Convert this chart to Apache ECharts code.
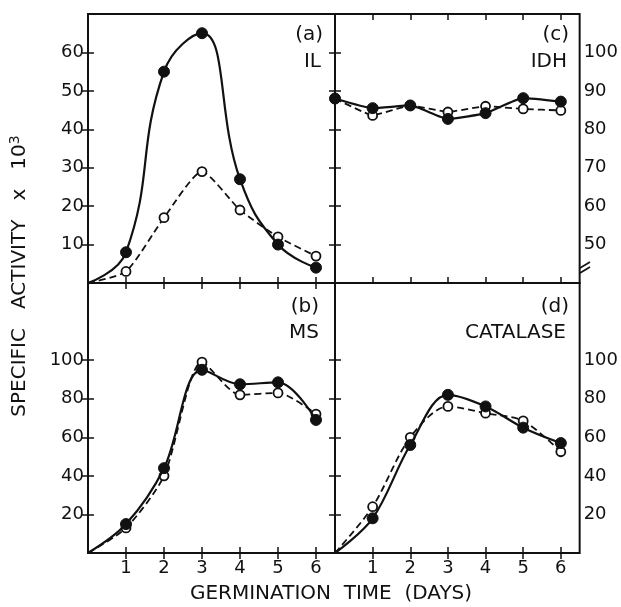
<!DOCTYPE html>
<html>
<head>
    <meta http-equiv="Content-Type" content="text/html; charset=utf-8"/>
    <title>Germination time</title>
    <style type="text/css">
        html, body { margin: 0; padding: 0; background: #fff; }
        #container { width: 621px; height: 607px; }
    </style>
</head>
<body>
<div id="container"></div>
<script type="text/javascript" src="https://cdn.jsdelivr.net/npm/echarts@6/dist/echarts.min.js"></script>
<script type="text/javascript">
    // days of germination
    var days = [0, 1, 2, 3, 4, 5, 6];
    var dayTicks = [1, 2, 3, 4, 5, 6];

    // (a) IL
    var ilFilled = [0, 8, 55, 65, 27, 10, 4];
    var ilOpen = [0, 3, 17, 29, 19, 12, 7];
    // (c) IDH
    var idhFilled = [88, 85.5, 86.2, 82.7, 84.2, 88.1, 87.2];
    var idhOpen = [88, 83.6, 86.2, 84.5, 86, 85.3, 84.9];
    // (b) MS
    var msFilled = [0, 15, 44, 95, 87.5, 88.5, 69];
    var msOpen = [0, 13, 40, 99, 82, 83, 72];
    // (d) CATALASE
    var catFilled = [0, 18, 56, 82, 76, 65, 57];
    var catOpen = [0, 24, 60, 76, 72.5, 68.5, 52.5];

    // y tick labels
    var ilTicks = [10, 20, 30, 40, 50, 60];
    var idhTicks = [50, 60, 70, 80, 90, 100];
    var msTicks = [20, 40, 60, 80, 100];
    var catTicks = [20, 40, 60, 80, 100];

    var FONT = 'DejaVu Sans';
    var INK = '#111';

    var chart = echarts.init(document.getElementById('container'));

    var grids = [
        {left: 88, top: 14, width: 247, height: 269},   // a
        {left: 335, top: 14, width: 250, height: 269},  // c
        {left: 88, top: 283, width: 247, height: 270},  // b
        {left: 335, top: 283, width: 250, height: 270}  // d
    ];
    grids.forEach(function (g) {
        g.show = true;
        g.borderColor = INK;
        g.borderWidth = 2;
        g.containLabel = false;
    });

    var xAxes = [];
    var yAxes = [];
    function addX(gi, pos, labels) {
        xAxes.push({
            type: 'value', gridIndex: gi, position: pos, min: 0, max: 6.5,
            axisLine: {show: false},
            splitLine: {show: false},
            axisTick: {inside: true, length: 6, customValues: dayTicks, lineStyle: {color: INK, width: 1.5}},
            axisLabel: {show: labels, customValues: dayTicks, margin: 6, color: INK, fontFamily: FONT, fontSize: 18}
        });
        return xAxes.length - 1;
    }
    function addY(gi, pos, min, max, ticks, labels) {
        yAxes.push({
            type: 'value', gridIndex: gi, position: pos, min: min, max: max,
            axisLine: {show: false},
            splitLine: {show: false},
            axisTick: {inside: true, length: 6, customValues: ticks, lineStyle: {color: INK, width: 1.5}},
            axisLabel: {show: labels, customValues: ticks, margin: 4, color: INK, fontFamily: FONT, fontSize: 18}
        });
        return yAxes.length - 1;
    }

    function pts(vals, hideFirst) {
        return days.map(function (d, i) {
            if (i === 0 && hideFirst) {
                return {value: [d, vals[i]], symbol: 'none'};
            }
            return [d, vals[i]];
        });
    }

    var series = [];
    function addPanel(gi, yMin, yMax, ticks, ySide, filled, open, hideFirst, smoothF, smoothO) {
        var xb = addX(gi, 'bottom', gi >= 2);
        addX(gi, 'top', false);
        var other = ySide === 'left' ? 'right' : 'left';
        var yi = addY(gi, ySide, yMin, yMax, ticks, true);
        addY(gi, other, yMin, yMax, ticks, false);
        series.push({
            type: 'line', xAxisIndex: xb, yAxisIndex: yi, z: 3,
            data: pts(open, hideFirst), smooth: smoothO,
            symbol: 'circle', symbolSize: 9,
            lineStyle: {color: INK, width: 1.8, type: [7, 4]},
            itemStyle: {color: '#fff', borderColor: INK, borderWidth: 1.8}
        });
        series.push({
            type: 'line', xAxisIndex: xb, yAxisIndex: yi, z: 4,
            data: pts(filled, hideFirst), smooth: smoothF,
            symbol: 'circle', symbolSize: 11,
            lineStyle: {color: INK, width: 2.2},
            itemStyle: {color: INK, borderColor: INK, borderWidth: 1}
        });
    }

    addPanel(0, 0, 70, ilTicks, 'left', ilFilled, ilOpen, true, 0.45, 0.2);
    addPanel(1, 40, 110, idhTicks, 'right', idhFilled, idhOpen, false, 0.15, 0.1);
    addPanel(2, 0, 140, msTicks, 'left', msFilled, msOpen, true, 0.35, 0.25);
    addPanel(3, 0, 140, catTicks, 'right', catFilled, catOpen, true, 0.35, 0.3);

    function tag(txt, right, top) {
        return {
            type: 'text', right: right, top: top,
            style: {text: txt, fill: INK, font: '20px "DejaVu Sans"', textAlign: 'right'}
        };
    }

    var option = {
        backgroundColor: '#fff',
        animation: false,
        grid: grids,
        xAxis: xAxes,
        yAxis: yAxes,
        series: series,
        graphic: [
            tag('(a)', 298, 25),
            tag('IL', 300, 52),
            tag('(c)', 52, 25),
            tag('IDH', 54, 52),
            tag('(b)', 302, 297),
            tag('MS', 302, 323),
            tag('(d)', 52, 297),
            tag('CATALASE', 55, 323),
            {
                type: 'text', x: 20, y: 276, rotation: Math.PI / 2,
                style: {
                    text: '{t|SPECIFIC   ACTIVITY   x   10}{s|3}',
                    textAlign: 'center', textVerticalAlign: 'middle', fill: INK,
                    rich: {
                        t: {fontFamily: FONT, fontSize: 20, fill: INK},
                        s: {fontFamily: FONT, fontSize: 14, fill: INK, verticalAlign: 'top', padding: [0, 0, 10, 0]}
                    }
                }
            },
            {
                type: 'text', x: 331, y: 594,
                style: {
                    text: 'GERMINATION  TIME  (DAYS)', fill: INK,
                    font: '20px "DejaVu Sans"', textAlign: 'center', textVerticalAlign: 'middle'
                }
            },
            // axis break on (c)
            {type: 'line', shape: {x1: 580, y1: 268, x2: 590, y2: 262}, style: {stroke: INK, lineWidth: 1.6}},
            {type: 'line', shape: {x1: 580, y1: 273, x2: 590, y2: 267}, style: {stroke: INK, lineWidth: 1.6}}
        ]
    };
    chart.setOption(option);
</script>
</body>
</html>
